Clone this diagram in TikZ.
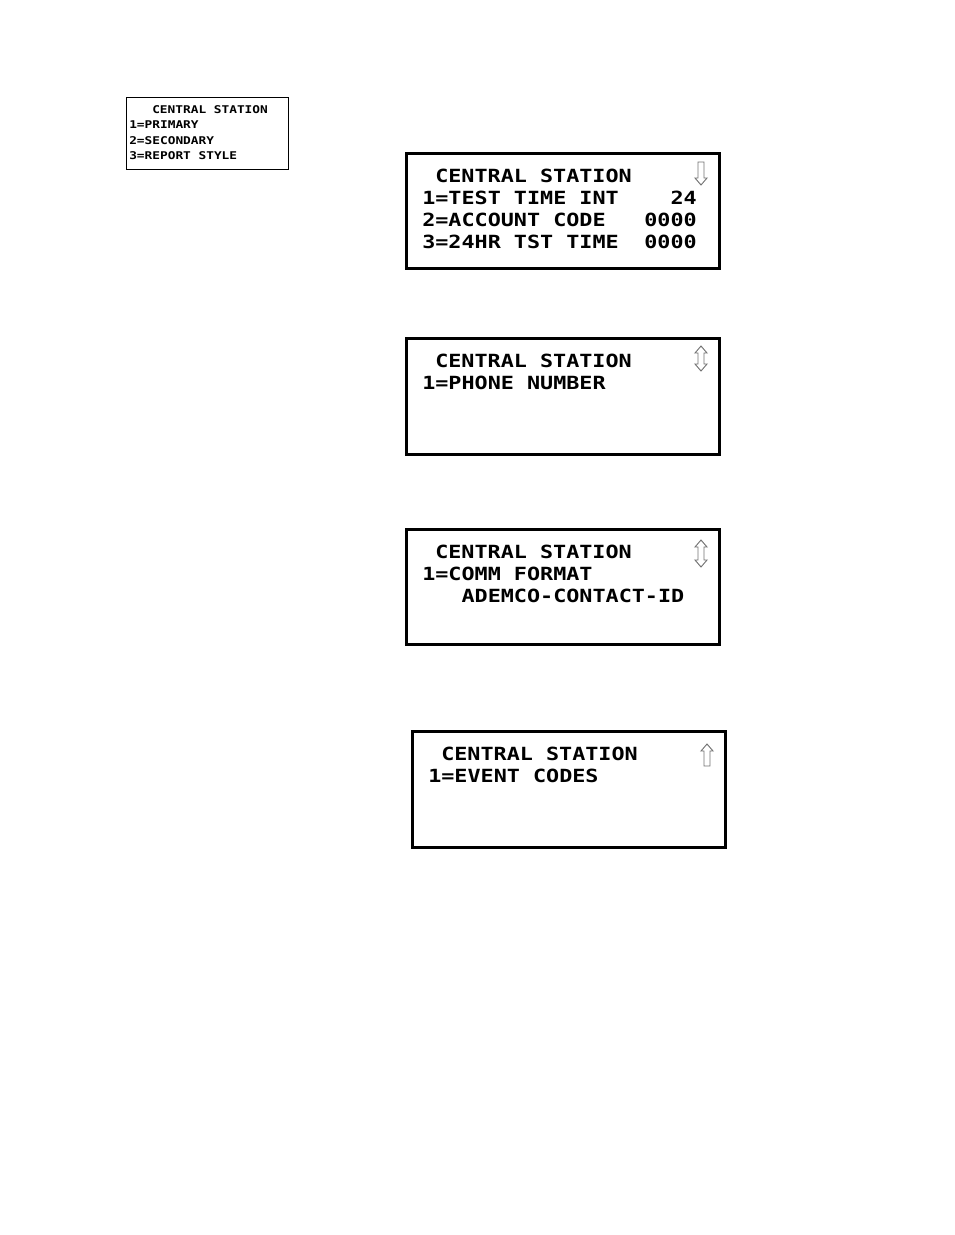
\documentclass[tikz,border=0pt]{standalone}
\usepackage{fontspec}
\newfontfamily\lcdfont[FakeStretch=1.2]{DejaVu Sans Mono}
\begin{document}
\begin{tikzpicture}[x=0.75pt,y=-0.75pt]

\def\lw{2.25pt}
\tikzstyle{screen} = [draw=black, line width=\lw];
\tikzstyle{small} = [draw=black, line width=0.75pt];
\tikzstyle{big} = [anchor=base west, inner sep=0pt,
	font=\lcdfont\bfseries\fontsize{13.6}{16}\selectfont];
\tikzstyle{tiny} = [anchor=base west, inner sep=0pt,
	font=\lcdfont\bfseries\fontsize{8}{10}\selectfont];
\tikzstyle{glyph} = [draw=black!55, line width=0.7pt, fill=white, line join=miter];
\useasboundingbox (0,0) rectangle (954,1235);

% main menu
\draw[small] (126.5,97.5) rectangle (288.5,169.5);
\node[tiny] (m0) at (152,113) {CENTRAL STATION};
\node[tiny] (m1) at (129,128.5) {1=PRIMARY};
\node[tiny] (m2) at (129,144) {2=SECONDARY};
\node[tiny] (m3) at (129,159.5) {3=REPORT STYLE};

% screen 1
\draw[screen] (406.5,153.5) rectangle (719.5,268.5);
\node[big] (a0) at (435,182) {CENTRAL STATION};
\node[big] (a1) at (422,204) {1=TEST TIME INT};
\node[big] (a2) at (422,226) {2=ACCOUNT CODE};
\node[big] (a3) at (422,248) {3=24HR TST TIME};
\node[big,anchor=base east] (v1) at (697,204) {24};
\node[big,anchor=base east] (v2) at (697,226) {0000};
\node[big,anchor=base east] (v3) at (697,248) {0000};
\draw[glyph] (698,162) -- (704,162) -- (704,178) -- (707,178) -- (701,185)
	-- (695,178) -- (698,178) -- cycle;

% screen 2
\draw[screen] (406.5,338.5) rectangle (719.5,454.5);
\node[big] (b0) at (435,367) {CENTRAL STATION};
\node[big] (b1) at (422,389) {1=PHONE NUMBER};
\draw[glyph] (701,346) -- (707,353) -- (704,353) -- (704,364) -- (707,364)
	-- (701,371) -- (695,364) -- (698,364) -- (698,353) -- (695,353) -- cycle;

% screen 3
\draw[screen] (406.5,529.5) rectangle (719.5,644.5);
\node[big] (c0) at (435,558) {CENTRAL STATION};
\node[big] (c1) at (422,580) {1=COMM FORMAT};
\node[big] (c2) at (461.3,602) {ADEMCO-CONTACT-ID};
\draw[glyph] (701,540) -- (707,547) -- (704,547) -- (704,560) -- (707,560)
	-- (701,567) -- (695,560) -- (698,560) -- (698,547) -- (695,547) -- cycle;

% screen 4
\draw[screen] (412.5,731.5) rectangle (725.5,847.5);
\node[big] (d0) at (441,760) {CENTRAL STATION};
\node[big] (d1) at (428,782) {1=EVENT CODES};
\draw[glyph] (707,744) -- (713,751) -- (710,751) -- (710,766) -- (704,766)
	-- (704,751) -- (701,751) -- cycle;

\end{tikzpicture}
\end{document}
